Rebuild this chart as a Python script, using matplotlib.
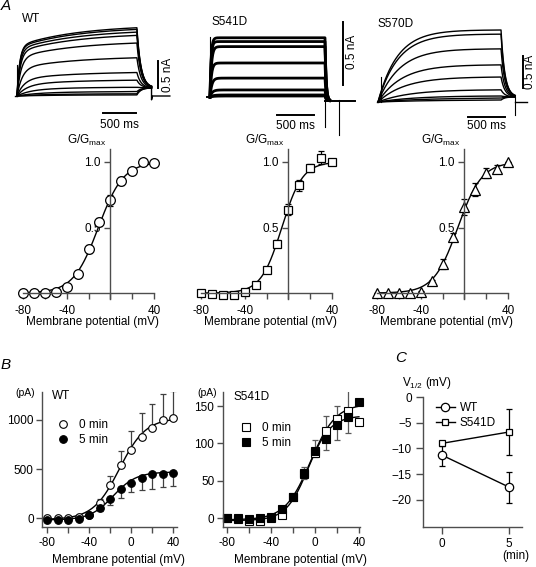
import numpy as np
import matplotlib.pyplot as plt

plt.rcParams['font.family'] = ['Liberation Sans', 'DejaVu Sans']
plt.rcParams['mathtext.fontset'] = 'custom'
plt.rcParams['mathtext.rm'] = 'Liberation Sans'
plt.rcParams['mathtext.it'] = 'Liberation Sans:italic'
plt.rcParams['font.size'] = 8.5

# ---------------- data ----------------
# A: current traces, amplitude at end of pulse (nA) and activation tau (ms)
wt_amp = [1.25, 1.22, 1.17, 1.11, 0.97, 0.70, 0.43, 0.29, 0.16, 0.08, 0.04, 0.02]
wt_tau = [40, 40, 45, 50, 60, 80, 110, 150, 200, 300, 400, 500]
s541d_amp = [0.47, 0.44, 0.40, 0.27, 0.15, 0.056, 0.016, 0.008]
s541d_tau = [15, 15, 20, 20, 25, 30, 40, 50]
s570d_amp = [1.125, 1.06, 0.83, 0.58, 0.39, 0.19, 0.094, 0.06, 0.03]
s570d_tau = [260, 270, 290, 320, 360, 420, 500, 600, 700]

# A: G/Gmax vs membrane potential
volt = [-80, -70, -60, -50, -40, -30, -20, -10, 0, 10, 20, 30, 40]
gv_wt = [0, 0, 0, 0.01, 0.046, 0.148, 0.333, 0.542, 0.707, 0.855, 0.931, 1.003, 0.995]
gv_wt_err = [0, 0, 0, 0.005, 0.01, 0.02, 0.03, 0.03, 0.04, 0.03, 0.02, 0.01, 0.01]
gv_s541d = [0, -0.01, -0.015, -0.015, 0.008, 0.058, 0.178, 0.377, 0.636, 0.822, 0.957, 1.033, 1.0]
gv_s541d_err = [0, 0, 0, 0, 0.005, 0.01, 0.02, 0.025, 0.04, 0.04, 0.03, 0.05, 0]
gv_s570d = [0, 0, 0, 0, 0.01, 0.09, 0.22, 0.425, 0.656, 0.79, 0.916, 0.95, 0.997]
gv_s570d_err = [0, 0, 0, 0, 0.005, 0.01, 0.04, 0.03, 0.06, 0.05, 0.04, 0.03, 0]
# Boltzmann fits (V1/2, k)
gv_fit = {'WT': (-11, 11.5), 'S541D': (-6, 9.5), 'S570D': (-6, 11)}

# B: current (pA), 0 min and 5 min
wt_0 = [0, 0, 0, 10, 34, 157, 341, 539, 693, 829, 915, 1000, 1024]
wt_0_err = [0, 0, 0, 0, 10, 40, 89, 147, 198, 239, 245, 263, 276]
wt_5 = [-24, -24, -17, -10, 34, 106, 198, 294, 362, 410, 444, 454, 464]
wt_5_err = [0, 0, 0, 0, 10, 38, 61, 86, 96, 127, 144, 137, 136]
s541d_0 = [0, -1, -3.6, -3.6, 1, 4.5, 28, 59, 87, 116, 132, 143, 129]
s541d_0_err = [0, 0, 0, 0, 0, 0, 2, 10, 18, 21, 18, 29, 0]
s541d_5 = [0, 0, -1, 0, 2, 12.5, 29, 60, 90, 106, 124, 135, 156]
s541d_5_err = [0, 0, 0, 0, 0, 0, 2, 8, 8, 15, 19, 21, 0]
# fits: amplitude, V1/2, k, offset
wt_fit = [(1035, -11, 12.5, -15), (490, -17, 11, -20)]
s541d_fit = [(140, -6, 10, -3), (155, -4, 11.5, -2)]

# C: V1/2 vs time
minutes = [0, 5]
v12_wt = [-11.3, -17.5]
v12_wt_err = [2.1, 3.0]
v12_s541d = [-9.0, -6.8]
v12_s541d_err = [0.5, 4.5]

# ---------------- figure ----------------
W, H = 536, 567
fig = plt.figure(figsize=(W / 100, H / 100), dpi=100)
SP = '0.3'


def px_axes(x0, y0, x1, y1):
    return fig.add_axes([x0 / W, 1 - y1 / H, (x1 - x0) / W, (y1 - y0) / H])


def ftext(x, y, s, **kw):
    return fig.text(x / W, 1 - y / H, s, **kw)


def boltz(v, vh, k):
    return 1.0 / (1.0 + np.exp((vh - v) / k))


def trace_axes(x_start, px_ms, y_base, px_na, x0, x1, y0, y1):
    ax = px_axes(x0, y0, x1, y1)
    ax.set_xlim((x0 - x_start) / px_ms, (x1 - x_start) / px_ms)
    ax.set_ylim((y_base - y1) / px_na, (y_base - y0) / px_na)
    ax.axis('off')
    return ax


def draw_traces(ax, amps, taus, t_end, slow_frac, tau_slow, tail_tau,
                tail_level, tail_dur, lw):
    t = np.linspace(0, t_end, 500)
    tt = np.linspace(t_end, t_end + tail_dur, 120)
    for a, tau in zip(amps, taus):
        shape = (1 - slow_frac) * (1 - np.exp(-t / tau)) + \
            slow_frac * (1 - np.exp(-t / tau_slow))
        shape = shape / shape[-1]
        i_tail = (a - tail_level) * np.exp(-(tt - t_end) / tail_tau) + tail_level
        ax.plot(np.r_[t, tt], np.r_[a * shape, i_tail], color='k', lw=lw,
                solid_joinstyle='round')


def scale_bars(ax, vx, vy0, vy1, hx0, hx1, hy, tx, ty, mx, my):
    ax.plot([vx, vx], [vy0, vy1], color='k', lw=1.4, clip_on=False)
    ax.plot([hx0, hx1], [hy, hy], color='k', lw=1.4, clip_on=False)
    ax.text(tx, ty, '0.5 nA', rotation=90, ha='center', va='center',
            fontsize=8.5, clip_on=False)
    ax.text(mx, my, '500 ms', ha='center', va='center', fontsize=8.5)


# ---- A: traces ----
ftext(1, 6, 'A', fontsize=11, style='italic', va='center')
ftext(22, 19, 'WT', fontsize=8.5, va='center')
ftext(212, 22, 'S541D', fontsize=8.5, va='center')
ftext(378, 24, 'S570D', fontsize=8.5, va='center')

# WT
ax = trace_axes(17, 33.3 / 500, 96, 54.6, 8, 178, 15, 135)
ax.plot([-30, 0], [0, 0], color='k', lw=1.0)
ax.plot([0, 0], [0, 0.57], color='k', lw=0.8)
draw_traces(ax, wt_amp, wt_tau, 1800, 0.3, 900, 60, 0.15, 220, 1.0)
ax.plot([2020, 2020, 2035, 2295], [0.15, -0.07, 0, 0], color='k', lw=1.0)
scale_bars(ax, 2115, 0.147, 0.647, 1290, 1790, -0.311, 2265, 0.39, 1545, -0.53)

# S541D
ax = trace_axes(210, 37 / 500, 97, 126, 200, 362, 15, 140)
ax.plot([-40, 0], [0, 0], color='k', lw=1.4)
ax.plot([0, 0], [0, 0.48], color='k', lw=0.8)
draw_traces(ax, s541d_amp, s541d_tau, 1554, 0.0, 500, 15, -0.03, 60, 2.0)
ax.plot([1554, 1554], [0, -0.24], color='k', lw=0.8)
ax.plot([1554, 1960], [-0.03, -0.03], color='k', lw=1.4)
ax.plot([1743, 1743], [-0.024, -0.30], color='k', lw=0.8)
scale_bars(ax, 1797, 0.095, 0.595, 905, 1405, -0.143, 1925, 0.36, 1149, -0.23)

# S570D
ax = trace_axes(378, 37.3 / 500, 102, 64, 370, 536, 15, 140)
ax.plot([-20, 0], [0, 0], color='k', lw=1.0)
ax.plot([40, 40], [0, 0.39], color='k', lw=0.8)
draw_traces(ax, s570d_amp, s570d_tau, 1649, 0.0, 500, 50, 0.08, 190, 1.0)
ax.plot([1839, 1839], [0.08, -0.2], color='k', lw=0.8)
ax.plot([1839, 2000], [0, 0], color='k', lw=1.0)
scale_bars(ax, 1943, 0.22, 0.72, 1206, 1706, -0.234, 2040, 0.47, 1448, -0.375)

# ---- A: G-V panels ----
gv_sets = [('WT', 23, gv_wt, gv_wt_err, 'o', 7),
           ('S541D', 201, gv_s541d, gv_s541d_err, 's', 6),
           ('S570D', 377, gv_s570d, gv_s570d_err, '^', 6.5)]
px_mv = 131 / 120
for name, xm80, g, ge, mk, ms in gv_sets:
    y0 = 293
    ax = px_axes(xm80, y0 - 1.10 * 131, xm80 + 120 * px_mv, y0 + 0.045 * 131)
    ax.set_xlim(-80, 40)
    ax.set_ylim(-0.045, 1.10)
    ax.patch.set_visible(False)
    for s in ['top', 'right']:
        ax.spines[s].set_visible(False)
    ax.spines['left'].set_position(('data', 0))
    ax.spines['bottom'].set_position(('data', 0))
    for s in ['left', 'bottom']:
        ax.spines[s].set_color(SP)
        ax.spines[s].set_linewidth(1.0)
    ax.set_xticks([-80, -60, -40, -20, 0, 20, 40])
    ax.set_xticklabels(['-80', '', '-40', '', '', '', '40'])
    ax.set_yticks([0.5, 1.0])
    ax.set_yticklabels(['0.5', '1.0'])
    ax.tick_params(direction='out', length=4, width=1.0, color=SP,
                   labelsize=8.5)
    ax.tick_params(axis='x', pad=5)
    ax.tick_params(axis='y', pad=3)
    vv = np.linspace(-80, 40, 300)
    vh, k = gv_fit[name]
    ax.plot(vv, boltz(vv, vh, k), color='k', lw=1.0, clip_on=False)
    ax.errorbar(volt, g, yerr=ge, fmt='none', ecolor='k', elinewidth=0.9,
                capsize=2, capthick=0.9, clip_on=False)
    ax.plot(volt, g, mk, ms=ms, mfc='white', mec='k', mew=0.9, clip_on=False)
    ax.annotate(r'G/G$_{\mathrm{max}}$', (0, 1.10), xytext=(-3, 1),
                textcoords='offset points', ha='right', va='bottom',
                fontsize=8.5)
    ftext(xm80 + 60 * px_mv + 4, 322, 'Membrane potential (mV)',
          ha='center', va='center', fontsize=8.5)


# ---- B ----
def b_axes(x0, x1, y_top, y_bot, xlim, ylim):
    ax = px_axes(x0, y_top, x1, y_bot)
    ax.set_xlim(*xlim)
    ax.set_ylim(*ylim)
    ax.patch.set_visible(False)
    for s in ['top', 'right']:
        ax.spines[s].set_visible(False)
    for s in ['left', 'bottom']:
        ax.spines[s].set_color(SP)
        ax.spines[s].set_linewidth(1.0)
    ax.set_xticks([-80, -60, -40, -20, 0, 20, 40])
    ax.set_xticklabels(['-80', '', '-40', '', '0', '', '40'])
    ax.tick_params(direction='out', length=4.5, width=1.0, color=SP,
                   labelsize=8.5)
    ax.tick_params(axis='x', pad=3)
    ax.tick_params(axis='y', pad=1.5)
    return ax


ftext(1, 365, 'B', fontsize=11, style='italic', va='center')

# WT
ax = b_axes(42, 177, 392, 527, (-84.8, 43.8), (-91.8, 1285.7))
ax.set_yticks([0, 500, 1000])
vv = np.linspace(-80, 40, 300)
for amp, vh, k, c in wt_fit:
    ax.plot(vv, amp * boltz(vv, vh, k) + c, color='k', lw=1.0)
ax.errorbar(volt, wt_0, yerr=[np.zeros(len(volt)), wt_0_err], fmt='none',
            ecolor='0.25', elinewidth=0.9, capsize=2, capthick=0.9)
ax.errorbar(volt, wt_5, yerr=[wt_5_err, np.zeros(len(volt))], fmt='none',
            ecolor='0.25', elinewidth=0.9, capsize=2, capthick=0.9)
ax.plot(volt, wt_0, 'o', ms=5.5, mfc='white', mec='k', mew=0.8,
        label='0 min', clip_on=False)
ax.plot(volt, wt_5, 'o', ms=5.5, mfc='k', mec='k', mew=0.8,
        label='5 min', clip_on=False)
ax.legend(loc='upper left', bbox_to_anchor=(51 / W, 1 - 413 / H),
          bbox_transform=fig.transFigure, frameon=False, borderpad=0,
          handlelength=1.0, handletextpad=0.9, labelspacing=0.25,
          fontsize=8.5, numpoints=1)
ftext(15, 393, '(pA)', fontsize=7.5, va='center')
ftext(52, 396, 'WT', fontsize=8.5, va='center')
ftext(118, 560, 'Membrane potential (mV)', ha='center', va='center',
      fontsize=8.5)

# S541D
ax = b_axes(222.7, 360, 392, 527, (-83.6, 41), (-11.6, 168.7))
ax.set_yticks([0, 50, 100, 150])
for amp, vh, k, c in s541d_fit:
    ax.plot(vv, amp * boltz(vv, vh, k) + c, color='k', lw=1.0)
ax.errorbar(volt, s541d_0, yerr=[np.zeros(len(volt)), s541d_0_err],
            fmt='none', ecolor='0.35', elinewidth=0.9, capsize=2,
            capthick=0.9)
ax.errorbar(volt, s541d_5, yerr=[s541d_5_err, np.zeros(len(volt))],
            fmt='none', ecolor='0.35', elinewidth=0.9, capsize=2,
            capthick=0.9)
ax.plot(volt, s541d_0, 's', ms=5.5, mfc='white', mec='k', mew=0.8,
        label='0 min', clip_on=False)
ax.plot(volt, s541d_5, 's', ms=5.5, mfc='k', mec='k', mew=0.8,
        label='5 min', clip_on=False)
ax.legend(loc='upper left', bbox_to_anchor=(234 / W, 1 - 416 / H),
          bbox_transform=fig.transFigure, frameon=False, borderpad=0,
          handlelength=1.0, handletextpad=0.9, labelspacing=0.25,
          fontsize=8.5, numpoints=1)
ftext(197, 393, '(pA)', fontsize=7.5, va='center')
ftext(233, 397, 'S541D', fontsize=8.5, va='center')
ftext(300, 560, 'Membrane potential (mV)', ha='center', va='center',
      fontsize=8.5)

# ---- C ----
ftext(395, 358, 'C', fontsize=11, style='italic', va='center')
ax = px_axes(423, 397, 522, 527)
ax.set_xlim(-1.42, 5.97)
ax.set_ylim(-25.25, 0)
ax.patch.set_visible(False)
for s in ['top', 'right']:
    ax.spines[s].set_visible(False)
for s in ['left', 'bottom']:
    ax.spines[s].set_color(SP)
    ax.spines[s].set_linewidth(1.0)
ax.set_xticks(minutes)
ax.set_yticks([0, -5, -10, -15, -20])
ax.tick_params(direction='out', length=5, width=1.0, color=SP, labelsize=8.5)
ax.tick_params(axis='y', pad=3)
ax.tick_params(axis='x', pad=3)
ax.errorbar(minutes, v12_wt, yerr=v12_wt_err, fmt='none', ecolor='k',
            elinewidth=0.9, capsize=2, capthick=0.9)
ax.errorbar(minutes, v12_s541d, yerr=v12_s541d_err, fmt='none', ecolor='k',
            elinewidth=0.9, capsize=2, capthick=0.9)
ax.plot(minutes, v12_wt, '-o', color='k', lw=1.0, ms=6, mfc='white',
        mew=0.9, label='WT')
ax.plot(minutes, v12_s541d, '-s', color='k', lw=1.0, ms=5, mfc='white',
        mew=0.9, label='S541D')
ax.legend(loc='upper left', bbox_to_anchor=(430 / W, 1 - 396 / H),
          bbox_transform=fig.transFigure, frameon=False, borderpad=0,
          handlelength=1.6, handletextpad=0.4, labelspacing=0.25,
          fontsize=8.5, numpoints=1)
ftext(402, 383, r'V$_{\mathrm{1/2}}$ (mV)', fontsize=8.5, va='center')
ftext(516, 556, '(min)', ha='center', va='center', fontsize=8.5)

fig.savefig('out.png', dpi=100, facecolor='white')
